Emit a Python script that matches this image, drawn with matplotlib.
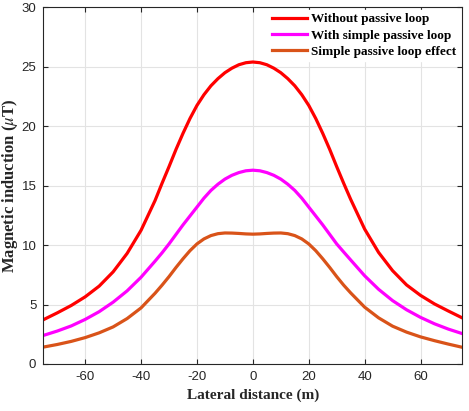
import matplotlib
matplotlib.use("Agg")
import matplotlib.pyplot as plt

# Lateral distance (m)
distance = [-75, -70, -65, -60, -55, -50, -45, -40, -35,
            -32.5, -30, -27.5, -25, -22.5, -20, -17.5, -15, -12.5, -10, -7.5, -5, -2.5,
            0, 2.5, 5, 7.5, 10, 12.5, 15, 17.5, 20, 22.5, 25, 27.5, 30, 32.5,
            35, 40, 45, 50, 55, 60, 65, 70, 75]

# Magnetic induction (uT)
without_loop = [3.72, 4.3, 4.92, 5.65, 6.55, 7.75, 9.3, 11.25, 13.75,
                15.2, 16.6, 18.05, 19.4, 20.65, 21.75, 22.65, 23.4, 24.0, 24.5, 24.88, 25.17, 25.34,
                25.4, 25.34, 25.17, 24.88, 24.5, 24.0, 23.4, 22.65, 21.75, 20.65, 19.4, 18.05, 16.6, 15.2,
                13.85, 11.35, 9.38, 7.85, 6.65, 5.77, 5.05, 4.45, 3.87]
with_loop = [2.4, 2.77, 3.2, 3.75, 4.4, 5.2, 6.15, 7.3, 8.65,
             9.35, 10.1, 10.9, 11.7, 12.45, 13.2, 13.95, 14.6, 15.12, 15.55, 15.87, 16.1, 16.25,
             16.3, 16.25, 16.1, 15.87, 15.55, 15.12, 14.6, 13.95, 13.2, 12.45, 11.7, 10.9, 10.1, 9.42,
             8.75, 7.42, 6.28, 5.33, 4.56, 3.92, 3.38, 2.93, 2.55]
loop_effect = [1.42, 1.64, 1.9, 2.22, 2.62, 3.12, 3.82, 4.72, 5.95,
               6.63, 7.35, 8.12, 8.85, 9.53, 10.1, 10.52, 10.8, 10.96, 11.02, 11.01, 10.98, 10.94,
               10.92, 10.94, 10.98, 11.01, 11.02, 10.96, 10.8, 10.52, 10.1, 9.53, 8.85, 8.12, 7.35, 6.63,
               5.98, 4.78, 3.88, 3.18, 2.68, 2.28, 1.96, 1.67, 1.4]

labels = ["Without passive loop", "With simple passive loop", "Simple passive loop effect"]
colors = ["#FF0000", "#FF00FF", "#D95319"]

plt.rcParams["mathtext.fontset"] = "stix"
plt.rcParams["axes.unicode_minus"] = False

fig = plt.figure(figsize=(4.69, 4.11), dpi=100)
ax = fig.add_axes([0.0923, 0.1144, 0.8937, 0.8678])

for y, lab, c in zip([without_loop, with_loop, loop_effect], labels, colors):
    ax.plot(distance, y, color=c, linewidth=2.3, label=lab, solid_joinstyle="round")

ax.set_xlim(-75, 75)
ax.set_ylim(0, 30)
ax.set_xticks([-60, -40, -20, 0, 20, 40, 60])
ax.set_yticks([0, 5, 10, 15, 20, 25, 30])

ax.grid(True, color="#E3E3E3", linewidth=0.8)
ax.set_axisbelow(True)
ax.tick_params(direction="in", top=True, right=True, length=3.5, width=0.8,
               labelsize=9.5, colors="#262626", pad=5)
for lbl in ax.get_xticklabels() + ax.get_yticklabels():
    lbl.set_family("Liberation Sans")
for sp in ax.spines.values():
    sp.set_color("#262626")
    sp.set_linewidth(0.8)

ax.set_xlabel("Lateral distance (m)", family="Liberation Serif", fontweight="bold",
              fontsize=11, color="#262626", labelpad=4)
ax.set_ylabel(r"Magnetic induction ($\mu$T)", family="Liberation Serif", fontweight="bold",
              fontsize=12, color="#262626", labelpad=1)

leg = ax.legend(loc="upper right", prop={"family": "Liberation Serif", "weight": "bold", "size": 9.5},
                frameon=True, fancybox=False, edgecolor="white", facecolor="white", framealpha=1,
                handlelength=2.7, handletextpad=0.3, labelspacing=0.3, borderpad=0.25,
                borderaxespad=0.2)

fig.savefig("out.png", dpi=100)
